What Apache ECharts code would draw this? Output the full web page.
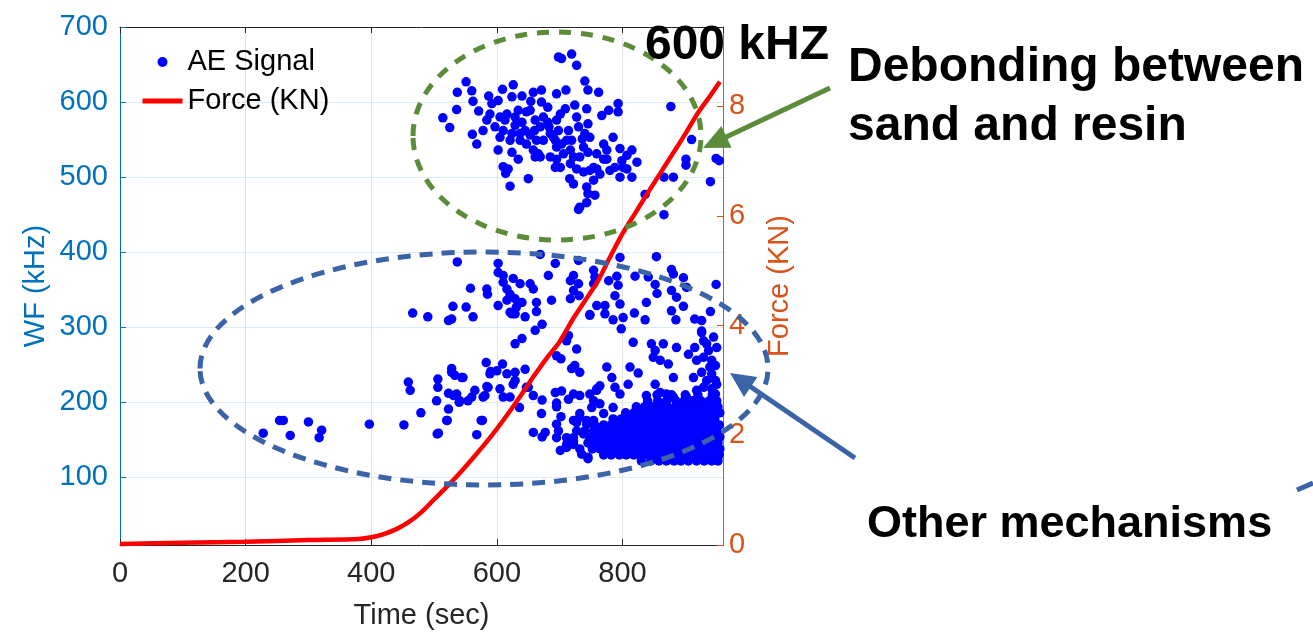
<!DOCTYPE html>
<html>
<head>
<meta charset="utf-8">
<script src="https://cdn.jsdelivr.net/npm/echarts@6/dist/echarts.min.js"></script>
<style>
  html, body { margin: 0; padding: 0; background: #fff; }
  #chart { width: 1313px; height: 636px; }
</style>
</head>
<body>
<div id="chart"></div>
<script>
  // Force curve (time in sec, force in KN)
  const forceTime = [0, 100, 200, 300, 380, 400, 420, 440, 460, 480, 500, 520, 540, 560, 580, 600,
    620, 640, 660, 680, 700, 720, 740, 760, 780, 800, 820, 840, 860, 880, 900, 920, 940, 955];
  const forceKN = [0.02, 0.04, 0.06, 0.09, 0.11, 0.14, 0.2, 0.29, 0.42, 0.6, 0.83, 1.06, 1.3, 1.56, 1.83, 2.12,
    2.43, 2.76, 3.1, 3.42, 3.71, 4.1, 4.45, 4.8, 5.25, 5.68, 6.05, 6.42, 6.78, 7.14, 7.5, 7.88, 8.2, 8.45];

  // AE signal hits [time, WF kHz]
  const aeUpper = [
    [514,579],[525,566],[537,613],[536,590],[551,627],[560,615],[562,601],[561,557],[568,544],[571,588],
    [578,562],[584,576],[587,608],[592,598],[602,602],[609,617],[602,536],[610,514],[614,505],[621,488],
    [618,511],[597,567],[605,553],[613,576],[616,584],[624,607],[626,623],[621,549],[629,569],[624,533],
    [634,524],[637,549],[634,589],[640,608],[645,562],[647,544],[650,498],[653,589],[654,601],[658,613],
    [661,576],[660,562],[663,549],[666,531],[669,527],[671,616],[671,600],[674,580],[681,593],[683,567],
    [685,558],[693,549],[695,611],[698,660],[703,658],[701,584],[695,576],[698,562],[695,540],[695,524],
    [693,513],[701,513],[710,616],[714,562],[711,549],[709,591],[719,664],[727,649],[724,596],[727,580],
    [730,567],[719,549],[717,536],[717,518],[716,498],[722,491],[732,527],[736,551],[740,628],[745,616],
    [743,591],[745,571],[748,553],[745,533],[754,513],[743,487],[745,478],[756,476],[743,466],[732,460],
    [754,496],[759,511],[764,504],[762,613],[767,582],[770,524],[778,589],[780,509],[785,553],[793,598],
    [793,587],[796,538],[799,522],[801,513],[796,500],[815,536],[815,500],[823,520],[807,529],
    [589,584],[605,580],[629,580],[647,587],[640,573],[669,567],[681,573],[610,562],[624,558],[637,558],
    [653,556],[674,549],[690,553],[703,544],[706,531],[685,527],[722,527],[727,511],[738,540],[759,531],
    [775,524],[788,513],[807,511],[775,536],[770,544],[740,558],[748,509],[738,507],[658,536],[661,527],
    [877,594],[910,550],[901,524],[901,516],[949,525],[881,500],[866,500],[940,494],[836,477],[866,450],
    [730,457],[954,522]
  ];
  const aeMiddle = [
    [537,387],[558,352],[584,351],[585,344],[602,385],[602,373],[610,369],[610,360],[616,351],[626,365],
    [637,358],[621,344],[616,336],[629,338],[640,333],[621,320],[629,318],[653,358],[658,351],[663,333],
    [663,321],[669,397],[682,369],[693,385],[687,336],[717,362],[722,369],[730,358],[722,349],[717,338],
    [731,342],[730,389],[754,376],[756,367],[754,358],[748,316],[759,329],[772,329],[772,318],[778,362],
    [791,368],[793,356],[796,393],[788,342],[796,331],[785,310],[801,313],[798,298],[820,368],[819,319],
    [836,310],[817,280],[838,333],[841,367],[852,357],[855,345],[854,394],[878,377],[881,371],[897,366],
    [902,353],[878,349],[886,340],[897,328],[878,322],[885,310],[915,311],[926,309],[940,321],[949,357],
    [926,295],
    [775,247],[783,233],[788,220],[796,211],[812,247],[825,239],[809,224],[846,278],[852,269],[849,260],
    [865,278],[860,256],[873,251],[881,233],[886,273],[905,264],[915,273],[913,233],[926,293],[929,282],
    [937,269],[945,287],[918,256],[929,260],[942,256],[948,249],[926,240],[942,238],[948,229],[918,216],
    [929,220],[942,218],[948,211],[852,224],[860,213],[870,211],[902,207],[881,207],[838,209],[950,273],
    [934,278],[939,247],[950,224],[934,229]
  ];
  const aeSparse = [
    [228,159],[254,176],[260,176],[271,156],[300,174],[321,163],[317,153],[397,171],[452,170],[459,227],
    [462,216],[479,186],[466,319],[490,314],[504,202],[505,158],[506,231],[506,220],[523,191],[521,176],
    [523,212],[528,240],[523,309],[528,311],[530,328],[551,327],[562,314],[536,211],[540,200],[546,233],
    [554,202],[565,216],[578,207],[568,157],[577,176],[584,221],[583,253],[590,241],[602,329],[605,218],
    [610,207],[609,251],[616,238],[624,318],[629,240],[631,327],[645,314],[629,278],[640,285],[645,244],
    [626,224],[647,220],[636,193],[661,296],[672,304],[658,209],[672,203],[671,185],[658,160],[672,154],
    [677,160],[693,213],[703,215],[695,199],[695,194],[702,181],[695,171],[698,162],[695,153],[714,204],
    [695,262],[702,258],[711,282],[714,289],[727,271],[724,249],[719,245],[732,240],[748,317],[722,211],
    [732,209],[748,211],[754,202],[759,218],[764,222],[528,245],[533,236],[544,233],[531,209],[541,202],
    [560,207],[581,209],[586,220],[589,238],[600,242],[621,207],[629,229],[650,220],[575,176],[507,159],
    [520,176]
  ];
  const aeDense = [
    [701,136],[711,144],[722,149],[735,131],[745,125],[727,173],[743,176],[756,169],[732,185],[751,193],
    [764,198],[785,193],[770,185],[759,216],[722,176],[732,180],[743,171],[754,176],[727,162],[738,158],
    [748,153],[754,162],[759,149],[722,153],[711,153],[711,140],[722,144],[732,138],[745,127],
    [830,122],[845,122],[858,122],[870,122],[882,122],[893,122],[905,122],[918,122],[930,122],[942,122],[952,122],
    [770,130],[782,130],[795,130],[806,130],[818,130],[829,130],[841,130],[852,130],[864,130],[875,130],
    [887,130],[898,130],[910,130],[921,130],[933,130],[944,130],[954,130],
    [752,138],[764,138],[776,138],[788,138],[799,138],[811,138],[822,138],[834,138],[845,138],[857,138],
    [868,138],[880,138],[891,138],[903,138],[914,138],[926,138],[937,138],[948,138],[955,138],
    [745,146],[757,146],[769,146],[780,146],[792,146],[803,146],[815,146],[826,146],[838,146],[849,146],
    [861,146],[872,146],[884,146],[895,146],[907,146],[918,146],[930,146],[941,146],[952,146],
    [760,154],[772,154],[784,154],[795,154],[807,154],[818,154],[830,154],[841,154],[853,154],[864,154],
    [876,154],[887,154],[899,154],[910,154],[922,154],[933,154],[945,154],[955,154],
    [740,162],[765,162],[777,162],[789,162],[800,162],[812,162],[823,162],[835,162],[846,162],[858,162],
    [869,162],[881,162],[892,162],[904,162],[915,162],[927,162],[938,162],[950,162],
    [770,170],[782,170],[794,170],[805,170],[817,170],[828,170],[840,170],[851,170],[863,170],[874,170],
    [886,170],[897,170],[909,170],[920,170],[932,170],[943,170],[954,170],
    [785,178],[798,178],[810,178],[821,178],[833,178],[844,178],[856,178],[867,178],[879,178],[890,178],
    [902,178],[913,178],[925,178],[936,178],[947,178],
    [805,186],[818,186],[830,186],[842,186],[853,186],[865,186],[876,186],[888,186],[899,186],[911,186],
    [922,186],[934,186],[945,186],[955,186],
    [822,194],[835,194],[848,194],[860,194],[872,194],[884,194],[895,194],[907,194],[918,194],[930,194],
    [941,194],[952,194],
    [840,202],[856,202],[870,202],[885,202],[898,202],[912,202],[925,202],[938,202],[950,202],
    [855,210],[878,210],[900,210],[920,210],[943,210]
  ];

  const xTicks = { min: 0, max: 960, interval: 200 };
  const wfRange = { min: 10, max: 700 };
  const wfTicks = [100, 200, 300, 400, 500, 600, 700];
  const forceAxis = { min: 0, max: 9.45, interval: 2 };

  const FONT = 'Liberation Sans';
  const BLUE_AX = '#0072BD';
  const ORANGE_AX = '#D95319';
  const GRAY_AX = '#262626';
  const GREEN_ANN = '#5B8C3A';
  const BLUE_ANN = '#3A63A8';

  const chart = echarts.init(document.getElementById('chart'), null, { renderer: 'canvas' });

  const forceData = forceTime.map((t, i) => [t, forceKN[i]]);
  const aeData = [].concat(aeUpper, aeMiddle, aeSparse, aeDense);

  chart.setOption({
    backgroundColor: '#fff',
    animation: false,
    textStyle: { fontFamily: FONT },

    grid: { left: 120, right: 590, top: 27, bottom: 91, containLabel: false },

    legend: {
      orient: 'vertical',
      left: 140,
      top: 47,
      itemWidth: 40,
      itemHeight: 10,
      itemGap: 9,
      padding: 0,
      textStyle: { fontSize: 29, color: '#000', fontFamily: FONT, lineHeight: 30 },
      data: [
        { name: 'AE Signal', icon: 'circle' },
        { name: 'Force (KN)', itemStyle: { opacity: 0 }, lineStyle: { width: 5, color: '#ff0000' } }
      ]
    },

    xAxis: [{
      type: 'value',
      min: xTicks.min, max: xTicks.max, interval: xTicks.interval,
      name: 'Time (sec)',
      nameLocation: 'middle',
      nameGap: 56,
      nameTextStyle: { fontSize: 29, color: GRAY_AX },
      axisLine: { onZero: false, lineStyle: { color: GRAY_AX, width: 1 } },
      axisTick: { inside: true, length: 6, lineStyle: { color: GRAY_AX } },
      axisLabel: { fontSize: 29, color: GRAY_AX, margin: 14, showMaxLabel: false },
      splitLine: { show: true, lineStyle: { color: '#e3e3e3', width: 1 } }
    }, {
      type: 'value',
      position: 'top',
      min: xTicks.min, max: xTicks.max, interval: xTicks.interval,
      axisLine: { onZero: false, lineStyle: { color: GRAY_AX, width: 1 } },
      axisTick: { inside: true, length: 6, lineStyle: { color: GRAY_AX } },
      axisLabel: { show: false },
      splitLine: { show: false }
    }],

    yAxis: [{
      type: 'value',
      min: wfRange.min, max: wfRange.max,
      name: 'WF (kHz)',
      nameLocation: 'middle',
      nameGap: 70,
      nameTextStyle: { fontSize: 29, color: BLUE_AX },
      axisLine: { show: true, onZero: false, lineStyle: { color: BLUE_AX, width: 1 } },
      axisTick: { show: true, inside: true, length: 6, customValues: wfTicks, lineStyle: { color: BLUE_AX } },
      axisLabel: { fontSize: 29, color: BLUE_AX, margin: 12, customValues: wfTicks },
      splitLine: { show: true, lineStyle: { color: '#dcebf6', width: 1 } }
    }, {
      type: 'value',
      position: 'right',
      min: forceAxis.min, max: forceAxis.max, interval: forceAxis.interval,
      name: 'Force (KN)',
      nameLocation: 'middle',
      nameGap: 42,
      nameTextStyle: { fontSize: 29, color: ORANGE_AX },
      axisLine: { show: true, onZero: false, lineStyle: { color: ORANGE_AX, width: 1 } },
      axisTick: { show: true, inside: true, length: 6, lineStyle: { color: ORANGE_AX } },
      axisLabel: { fontSize: 29, color: ORANGE_AX, margin: 6, showMaxLabel: false },
      splitLine: { show: false }
    }],

    series: [{
      name: 'AE Signal',
      type: 'scatter',
      data: aeData,
      symbolSize: 9.5,
      itemStyle: { color: '#0000ff', opacity: 1 },
      z: 2
    }, {
      name: 'Force (KN)',
      type: 'line',
      yAxisIndex: 1,
      data: forceData,
      symbol: 'none',
      smooth: 0.3,
      lineStyle: { color: '#ff0000', width: 4.5 },
      itemStyle: { color: '#ff0000' },
      z: 3
    }],

    // annotations drawn over the plot
    graphic: [
      {
        type: 'ellipse', z: 100,
        shape: { cx: 557, cy: 136, rx: 144, ry: 104 },
        style: { fill: 'none', stroke: GREEN_ANN, lineWidth: 5, lineDash: [12, 10] }
      },
      {
        type: 'ellipse', z: 100,
        shape: { cx: 484, cy: 368.5, rx: 284, ry: 116.5 },
        style: { fill: 'none', stroke: BLUE_ANN, lineWidth: 5, lineDash: [13, 9] }
      },
      {
        type: 'line', z: 100,
        shape: { x1: 830, y1: 88, x2: 724, y2: 138 },
        style: { stroke: GREEN_ANN, lineWidth: 5 }
      },
      {
        type: 'polygon', z: 100,
        shape: { points: [[703, 148], [731.6, 147.7], [721.4, 126.1]] },
        style: { fill: GREEN_ANN }
      },
      {
        type: 'line', z: 100,
        shape: { x1: 855, y1: 458, x2: 748, y2: 385 },
        style: { stroke: BLUE_ANN, lineWidth: 5 }
      },
      {
        type: 'polygon', z: 100,
        shape: { points: [[730, 373], [744, 397], [757.4, 377]] },
        style: { fill: BLUE_ANN }
      },
      {
        type: 'line', z: 100,
        shape: { x1: 1297, y1: 490, x2: 1313, y2: 483 },
        style: { stroke: BLUE_ANN, lineWidth: 5 }
      },
      {
        type: 'text', z: 101, x: 737, y: 46,
        style: { text: '600 kHZ', font: 'bold 48px ' + FONT, fill: '#000', textAlign: 'center', textVerticalAlign: 'middle' }
      },
      {
        type: 'text', z: 101, x: 848, y: 68,
        style: { text: 'Debonding between', font: 'bold 48px ' + FONT, fill: '#000', textAlign: 'left', textVerticalAlign: 'middle' }
      },
      {
        type: 'text', z: 101, x: 848, y: 127,
        style: { text: 'sand and resin', font: 'bold 48px ' + FONT, fill: '#000', textAlign: 'left', textVerticalAlign: 'middle' }
      },
      {
        type: 'text', z: 101, x: 867, y: 525,
        style: { text: 'Other mechanisms', font: 'bold 45px ' + FONT, fill: '#000', textAlign: 'left', textVerticalAlign: 'middle' }
      }
    ]
  });
</script>
</body>
</html>
